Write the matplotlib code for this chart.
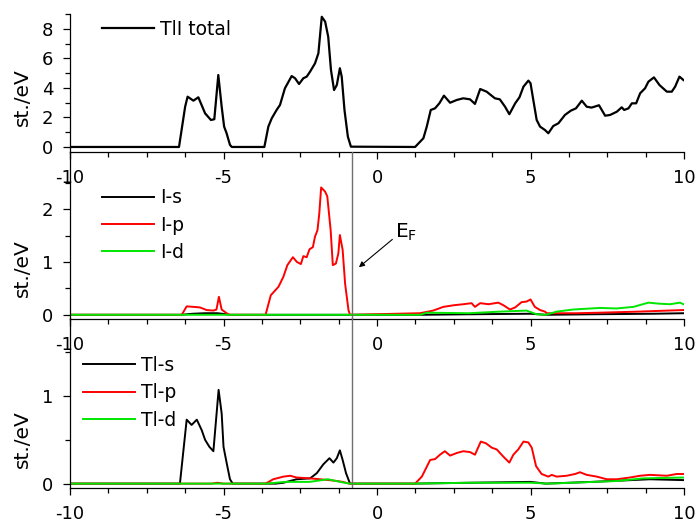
import matplotlib
matplotlib.use('Agg')
import matplotlib.pyplot as plt
from matplotlib.ticker import MultipleLocator, FixedLocator

plt.rcParams['font.family'] = ['DejaVu Sans']
plt.rcParams['mathtext.default'] = 'regular'
plt.rcParams['axes.unicode_minus'] = False

# TlI total DOS
total_E = [-10, -6.45, -6.25, -6.17, -5.98, -5.82, -5.60, -5.41, -5.30, -5.17, -5.06, -4.98, -4.90, -4.79, -4.73,
           -3.67, -3.54, -3.43, -3.27, -3.16, -3.0, -2.78, -2.67, -2.54, -2.40, -2.29, -2.18, -2.02, -1.91,
           -1.80, -1.69, -1.59, -1.50, -1.40, -1.31, -1.21, -1.15, -1.06, -0.95, -0.85,
           1.24, 1.51, 1.62, 1.75, 1.89, 2.03, 2.18, 2.38, 2.60, 2.81, 3.03, 3.19, 3.36, 3.57, 3.84, 4.0,
           4.17, 4.31, 4.50, 4.64, 4.77, 4.93, 5.0, 5.09, 5.20, 5.31, 5.47, 5.58, 5.74, 5.91, 6.12, 6.31,
           6.48, 6.67, 6.83, 6.99, 7.23, 7.32, 7.43, 7.59, 7.81, 7.97, 8.05, 8.19, 8.30, 8.44, 8.57, 8.73,
           8.84, 9.02, 9.20, 9.44, 9.60, 9.71, 9.85, 9.98]
total_dos = [0, 0, 2.73, 3.41, 3.14, 3.37, 2.28, 1.83, 1.88, 4.88, 2.73, 1.38, 0.93, 0.14, 0,
             0, 1.38, 1.94, 2.51, 2.85, 3.98, 4.81, 4.66, 4.27, 4.66, 4.77, 5.11, 5.67, 6.35,
             8.83, 8.5, 7.48, 5.22, 3.86, 4.2, 5.34, 4.77, 2.51, 0.70, 0.02,
             0, 0.59, 1.38, 2.51, 2.62, 2.96, 3.48, 3.0, 3.19, 3.30, 3.23, 2.92, 3.93, 3.75, 3.30, 3.23,
             2.73, 2.22, 2.96, 3.37, 4.09, 4.50, 4.32, 3.19, 1.83, 1.38, 1.15, 0.93, 1.42, 1.61, 2.17, 2.46,
             2.62, 3.14, 2.73, 2.67, 2.83, 2.51, 2.12, 2.17, 2.39, 2.69, 2.51, 2.62, 2.96, 2.96, 3.64, 3.98,
             4.43, 4.72, 4.20, 3.75, 3.75, 4.09, 4.77, 4.54]

# I partial DOS
Is_E = [-10, -6.4, -6.0, -5.6, -5.2, -4.9, -4.8, 1.4, 3.0, 5.0, 5.5, 7.0, 9.0, 10]
Is_dos = [0, 0, 0.02, 0.03, 0.03, 0.01, 0, 0, 0.01, 0.02, 0.0, 0.01, 0.02, 0.03]

Ip_E = [-10, -6.36, -6.2, -5.98, -5.77, -5.55, -5.33, -5.23, -5.15, -5.06, -4.9, -4.8,
        -3.63, -3.46, -3.21, -3.05, -2.92, -2.74, -2.61, -2.48, -2.40, -2.29, -2.20, -2.09, -2.02, -1.94,
        -1.88, -1.82, -1.69, -1.62, -1.51, -1.44, -1.34, -1.26, -1.21, -1.12, -1.04, -0.93, -0.88,
        1.40, 1.83, 2.16, 2.49, 2.81, 3.08, 3.19, 3.36, 3.63, 3.95, 4.12, 4.33, 4.50, 4.71, 4.87, 5.0,
        5.14, 5.31, 5.47, 5.53, 6.5, 7.26, 8.5, 9.98]
Ip_dos = [0, 0, 0.16, 0.15, 0.14, 0.09, 0.08, 0.10, 0.34, 0.10, 0.03, 0,
          0, 0.37, 0.53, 0.72, 0.94, 1.09, 1.0, 0.96, 1.11, 1.09, 1.24, 1.28, 1.48, 1.60,
          1.92, 2.41, 2.33, 2.24, 1.60, 0.94, 0.97, 1.16, 1.51, 1.23, 0.59, 0.09, 0,
          0.03, 0.08, 0.15, 0.18, 0.20, 0.22, 0.15, 0.22, 0.20, 0.23, 0.18, 0.10, 0.14, 0.24, 0.25, 0.29,
          0.15, 0.09, 0.06, 0.03, 0.03, 0.04, 0.06, 0.09]

Id_E = [-10, 1.4, 1.62, 3.0, 4.0, 4.87, 5.2, 5.5, 5.85, 6.39, 7.26, 7.8, 8.35, 8.84, 9.2, 9.54, 9.87, 9.98]
Id_dos = [0, 0, 0.04, 0.03, 0.06, 0.08, 0.01, 0.0, 0.06, 0.10, 0.13, 0.12, 0.15, 0.23, 0.21, 0.20, 0.23, 0.20]

# Tl partial DOS
Tls_E = [-10, -6.42, -6.2, -6.04, -5.87, -5.71, -5.60, -5.46, -5.33, -5.16, -5.06, -5.0, -4.9, -4.79, -4.7,
         -3.3, -3.05, -2.62, -2.18, -1.96, -1.75, -1.55, -1.42, -1.31, -1.21, -1.12, -1.01, -0.88,
         1.2, 3.0, 5.0, 5.5, 7.0, 8.89, 10]
Tls_dos = [0, 0, 0.73, 0.67, 0.73, 0.61, 0.50, 0.42, 0.37, 1.07, 0.80, 0.42, 0.24, 0.05, 0,
           0, 0.01, 0.05, 0.06, 0.12, 0.22, 0.29, 0.24, 0.29, 0.38, 0.27, 0.12, 0,
           0, 0.01, 0.02, 0.0, 0.02, 0.05, 0.04]

Tlp_E = [-10, -5.4, -5.2, -5.0, -3.63, -3.38, -3.05, -2.83, -2.62, -2.18, -1.86, -1.55, -1.31, -1.12, -0.9,
         1.24, 1.46, 1.73, 1.89, 2.05, 2.21, 2.38, 2.60, 2.81, 3.03, 3.19, 3.38, 3.55, 3.74, 3.90, 4.11,
         4.31, 4.44, 4.60, 4.77, 4.93, 5.04, 5.18, 5.36, 5.58, 5.69, 5.85, 6.18, 6.45, 6.61, 6.83, 7.16,
         7.48, 7.81, 8.24, 8.57, 8.89, 9.44, 9.76, 10]
Tlp_dos = [0, 0, 0.01, 0, 0, 0.05, 0.08, 0.09, 0.07, 0.06, 0.05, 0.04, 0.03, 0.02, 0,
           0, 0.08, 0.27, 0.28, 0.33, 0.37, 0.32, 0.35, 0.37, 0.36, 0.33, 0.48, 0.46, 0.41, 0.39, 0.31,
           0.24, 0.33, 0.39, 0.48, 0.47, 0.41, 0.20, 0.11, 0.08, 0.10, 0.08, 0.09, 0.11, 0.13, 0.10, 0.08,
           0.05, 0.05, 0.07, 0.09, 0.10, 0.09, 0.11, 0.11]

Tld_E = [-10, -3.6, -3.0, -2.2, -1.6, -1.2, -0.9, 1.2, 3.0, 5.0, 5.6, 7.81, 8.67, 10]
Tld_dos = [0, 0, 0.02, 0.02, 0.05, 0.02, 0, 0, 0.01, 0.01, 0.0, 0.03, 0.06, 0.07]

E_fermi = -0.81
xticks = [-10, -5, 0, 5, 10]
yticks = [[0, 2, 4, 6, 8], [0, 1, 2], [0, 1]]
yminor = [[1, 3, 5, 7, 9], [0.5, 1.5, 2.5], [0.5, 1.5]]
ylims = [(-0.34, 9.02), (-0.08, 3.08), (-0.05, 1.89)]

fig = plt.figure(figsize=(6.98, 5.23), dpi=100)
left, width = 0.1003, 0.8797
ax1 = fig.add_axes([left, 0.7094, width, 0.2639])
ax2 = fig.add_axes([left, 0.3900, width, 0.3193])
ax3 = fig.add_axes([left, 0.0669, width, 0.3250])

lw = 1.4
ax1.plot(total_E, total_dos, color='black', lw=lw + 0.2, label='TlI total')
ax2.plot(Is_E, Is_dos, color='black', lw=lw, label='I-s')
ax2.plot(Ip_E, Ip_dos, color='#ff0000', lw=lw, label='I-p')
ax2.plot(Id_E, Id_dos, color='#00e600', lw=lw, label='I-d')
ax3.plot(Tls_E, Tls_dos, color='black', lw=lw, label='Tl-s')
ax3.plot(Tlp_E, Tlp_dos, color='#ff0000', lw=lw, label='Tl-p')
ax3.plot(Tld_E, Tld_dos, color='#00e600', lw=lw, label='Tl-d')

for ax in (ax2, ax3):
    ax.axvline(E_fermi, color='#707070', lw=1.0)

label_y = [0.40, 0.305, 0.29]
for ax, ly, yt, ym, yl in zip((ax1, ax2, ax3), label_y, yticks, yminor, ylims):
    ax.set_xlim(-10, 10)
    ax.set_ylim(*yl)
    ax.yaxis.set_major_locator(FixedLocator(yt))
    ax.yaxis.set_minor_locator(FixedLocator(ym))
    ax.set_xticks(xticks)
    ax.set_xticklabels([str(t) for t in xticks])
    ax.xaxis.set_minor_locator(MultipleLocator(1.25))
    ax.patch.set_alpha(0)
    ax.spines['top'].set_visible(False)
    ax.spines['right'].set_visible(False)
    ax.spines['left'].set_linewidth(0.9)
    ax.spines['bottom'].set_linewidth(0.9)
    ax.tick_params(which='major', direction='out', length=5, width=0.9, labelsize=13, pad=7)
    ax.tick_params(which='minor', direction='out', length=3.5, width=0.9)
    ax.set_ylabel('st./eV', fontsize=14.5)
    ax.yaxis.set_label_coords(-0.062, ly)

leg_kw = dict(frameon=False, fontsize=13.5, handlelength=2.8, handletextpad=0.3,
              labelspacing=0.45, borderpad=0, borderaxespad=0, loc='center left')
ax1.legend(bbox_to_anchor=(0.052, 0.891), **leg_kw)
ax2.legend(bbox_to_anchor=(0.052, 0.563), **leg_kw)
ax3.legend(bbox_to_anchor=(0.021, 0.559), **leg_kw)

ax2.annotate('E$_F$', xy=(-0.59, 0.90), xytext=(0.59, 1.45),
             fontsize=14.5, ha='left', va='baseline',
             arrowprops=dict(arrowstyle='-|>', color='black', lw=0.8,
                             mutation_scale=8, shrinkA=0, shrinkB=0,
                             relpos=(0, 0.3)))

fig.savefig('out.png', dpi=100, facecolor='white')
